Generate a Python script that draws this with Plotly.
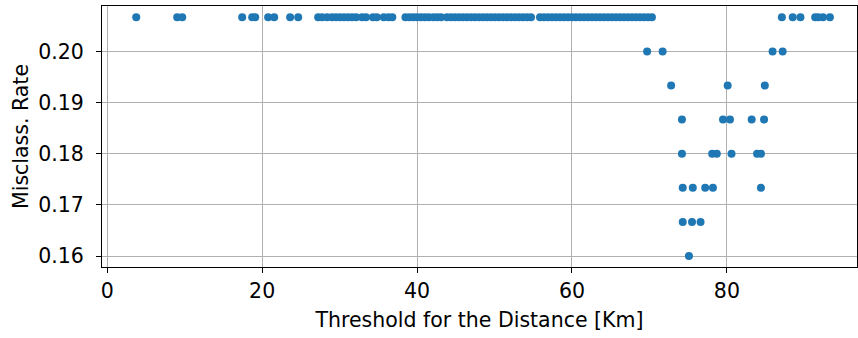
import plotly.graph_objects as go

# Threshold values (km) and misclassification rate
top_x = [3.74, 9.03, 9.68, 17.42, 18.71, 19.10, 20.77, 21.55, 23.61, 24.65,
         27.23, 27.74, 28.39, 29.03, 29.55, 30.06, 30.58, 31.10, 31.61, 32.13,
         32.90, 33.40, 34.30, 34.80, 35.70, 36.30, 36.80,
         38.50, 39.00, 39.50, 40.00, 40.50, 41.00, 41.50, 42.10, 42.60, 43.10,
         43.87, 44.39, 44.90, 45.42, 45.94, 46.45, 46.97, 47.48, 48.00, 48.52,
         49.03, 49.55, 50.06, 50.58, 51.10, 51.61, 52.13, 52.65, 53.16, 53.68,
         54.19, 54.71, 55.87, 56.39, 56.90, 57.42, 57.94, 58.45, 58.97, 59.48,
         60.00, 60.52, 61.03, 61.55, 62.06, 62.58, 63.10, 63.61, 64.13, 64.65,
         65.16, 65.68, 66.19, 66.71, 67.23, 67.74, 68.26, 68.77, 69.29, 69.81,
         70.32, 87.1, 88.5, 89.5, 91.4, 91.8, 92.4, 93.3]
top_y = [0.20667] * len(top_x)

low_x = [69.7, 71.7, 85.9, 87.2,
         72.8, 80.1, 84.9,
         74.2, 79.5, 80.4, 83.2, 84.8,
         74.2, 78.1, 78.7, 80.6, 83.9, 84.4,
         74.3, 75.6, 77.2, 78.2, 84.4,
         74.3, 75.5, 76.6,
         75.1]
low_y = [0.20] * 4 + [0.19333] * 3 + [0.18667] * 5 + [0.18] * 6 + \
        [0.17333] * 5 + [0.16667] * 3 + [0.16]

x_vals = top_x + low_x
y_vals = top_y + low_y

x_ticks = [0, 20, 40, 60, 80]
y_ticks = [0.16, 0.17, 0.18, 0.19, 0.20]

font = dict(family="DejaVu Sans", size=20.5, color="black")

fig = go.Figure(go.Scatter(
    x=x_vals, y=y_vals, mode="markers",
    marker=dict(color="#1f77b4", size=8, line=dict(width=0)),
    showlegend=False,
))

axis_common = dict(
    showline=True, linecolor="black", linewidth=1.1, mirror=True,
    ticks="outside", ticklen=5, tickwidth=1.1, tickcolor="black",
    showgrid=True, gridcolor="#b0b0b0", gridwidth=1.1,
    zeroline=False, tickfont=font,
)

fig.update_layout(
    width=858, height=338,
    margin=dict(l=102, r=1, t=6, b=71),
    paper_bgcolor="white", plot_bgcolor="white",
    font=font,
    xaxis=dict(range=[-0.68, 96.8], tickvals=x_ticks, ticklabelstandoff=0,
               title=dict(text="Threshold for the Distance [Km]", font=font, standoff=10),
               **axis_common),
    yaxis=dict(range=[0.15785, 0.20888], tickvals=y_ticks, tickformat=".2f",
               ticklabelstandoff=8,
               title=dict(text="Misclass. Rate", font=font, standoff=4),
               **axis_common),
)

fig.write_html("out.html")
